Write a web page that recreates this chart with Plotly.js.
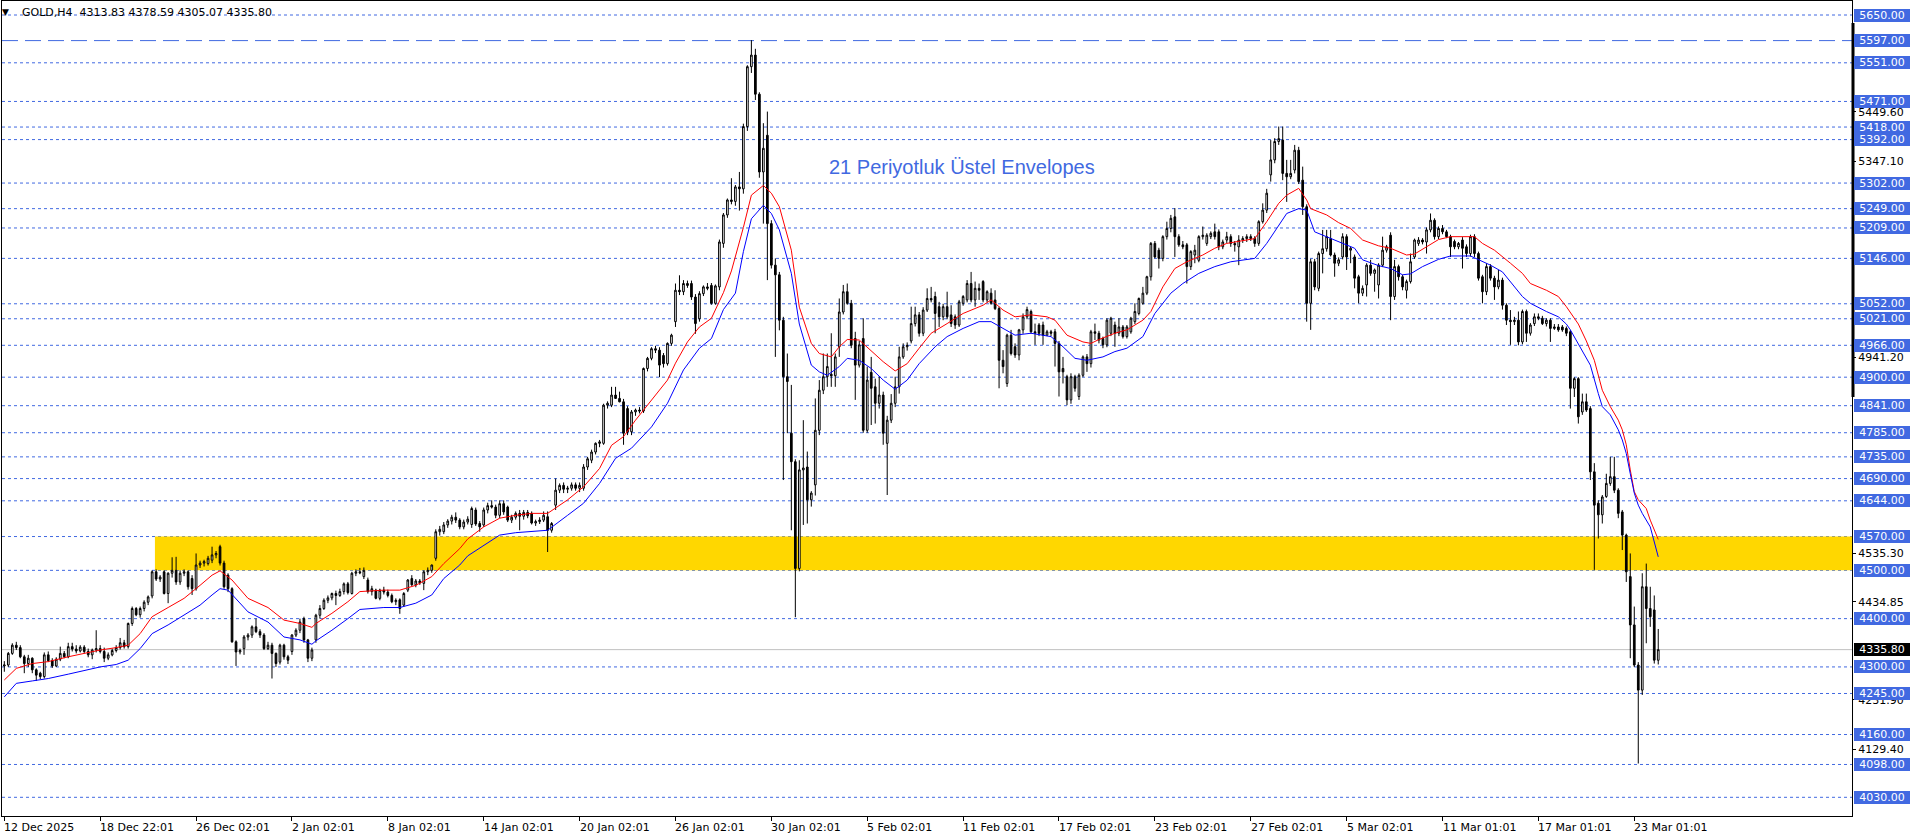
<!DOCTYPE html>
<html><head><meta charset="utf-8">
<script src="https://cdn.plot.ly/plotly-3.0.1.min.js"></script>
<style>html,body{margin:0;padding:0;background:#fff;overflow:hidden}#chart{width:1916px;height:840px}</style>
</head><body><div id="chart"></div>
<script>
const openP = [
4302,4304,4328,4345,4340,4321,4307,4318,4294,4287,
4280,4325,4313,4302,4316,4328,4321,4342,4337,4333,
4341,4332,4325,4335,4338,4332,4318,4325,4334,4340,
4350,4342,4390,4421,4408,4421,4434,4447,4497,4482,
4497,4452,4494,4500,4476,4494,4497,4483,4462,4511,
4515,4514,4521,4532,4549,4515,4490,4462,4352,4331,
4338,4362,4366,4383,4373,4366,4338,4345,4328,4310,
4345,4321,4332,4366,4376,4400,4356,4318,4356,4407,
4421,4438,4443,4452,4448,4456,4472,4452,4494,4497,
4487,4480,4456,4459,4442,4459,4455,4448,4435,4439,
4428,4459,4483,4470,4478,4473,4497,4500,4525,4580,
4580,4594,4602,4610,4604,4590,4600,4595,4625,4597,
4594,4625,4634,4631,4614,4638,4631,4604,4610,4618,
4612,4620,4618,4598,4601,4604,4611,4583,4635,4666,
4676,4668,4670,4677,4670,4670,4714,4728,4745,4763,
4763,4842,4842,4863,4856,4849,4835,4787,4828,4832,
4830,4918,4939,4959,4956,4945,4928,4970,5015,5080,
5077,5094,5094,5066,5021,5073,5087,5090,5053,5087,
5177,5236,5267,5264,5294,5290,5419,5543,5567,5486,
5325,5401,5218,5132,5112,5018,4901,4784,4725,4504,
4708,4714,4646,4677,4790,4873,4901,4906,4903,4963,
5035,5077,5053,4980,4925,4980,4790,4910,4880,4846,
4863,4763,4811,4846,4880,4942,4963,4975,5011,5029,
4991,5039,5063,5067,5046,5025,5046,5029,5025,5008,
5053,5060,5094,5060,5084,5098,5060,5074,5060,5042,
4935,4887,4987,4963,4946,4998,5025,5036,4994,5008,
5008,4987,4994,4994,4970,4918,4901,4853,4901,4860,
4904,4942,4928,4994,4991,4980,4967,4991,5008,4991,
5004,4984,4994,5015,5032,5053,5074,5108,5177,5163,
5146,5191,5208,5232,5191,5174,5174,5129,5153,5142,
5191,5177,5191,5201,5201,5170,5184,5191,5177,5170,
5184,5187,5191,5187,5177,5222,5246,5319,5350,5388,
5391,5322,5315,5329,5370,5308,5253,5053,5139,5084,
5156,5166,5187,5153,5136,5149,5191,5163,5149,5108,
5074,5091,5132,5115,5091,5132,5163,5194,5067,5129,
5108,5080,5098,5149,5177,5184,5180,5205,5225,5191,
5208,5201,5191,5181,5170,5184,5170,5156,5191,5156,
5108,5077,5129,5105,5087,5101,5049,5018,5015,5018,
4973,5036,4991,5011,5025,5022,5011,5018,5001,5004,
5004,5001,4994,4877,4897,4828,4849,4835,4704,4639,
4615,4653,4680,4694,4666,4621,4573,4487,4387,4304,
4252,4466,4421,4418,4313.83];
const highP = [
4312,4331,4349,4352,4345,4325,4325,4320,4297,4290,
4330,4332,4318,4320,4342,4333,4350,4350,4345,4345,
4345,4338,4338,4376,4345,4340,4330,4338,4345,4360,
4356,4392,4425,4424,4425,4438,4448,4500,4502,4490,
4500,4496,4527,4528,4500,4502,4500,4490,4535,4520,
4522,4530,4549,4540,4553,4520,4494,4465,4355,4338,
4366,4370,4386,4400,4378,4370,4352,4350,4330,4348,
4348,4325,4368,4380,4400,4404,4358,4340,4410,4428,
4442,4448,4454,4458,4462,4475,4476,4497,4502,4505,
4506,4485,4468,4462,4462,4466,4460,4452,4442,4442,
4455,4482,4490,4482,4482,4500,4506,4512,4585,4592,
4600,4606,4615,4620,4608,4605,4612,4632,4630,4602,
4630,4640,4645,4636,4645,4645,4634,4615,4622,4625,
4625,4625,4622,4605,4610,4622,4622,4600,4690,4680,
4682,4675,4682,4682,4682,4720,4735,4750,4765,4770,
4845,4850,4880,4880,4870,4855,4840,4832,4835,4838,
4920,4942,4962,4965,4962,4950,4972,4990,5094,5111,
5101,5100,5100,5072,5078,5090,5095,5095,5092,5185,
5240,5270,5312,5298,5325,5425,5546,5598,5580,5490,
5426,5450,5225,5146,5118,5025,4949,4884,4730,4728,
4811,4746,4664,4856,4894,4949,4949,4991,4949,5063,
5091,5094,5060,4994,4975,5022,4922,4942,4897,4901,
4870,4820,4865,4901,4963,4970,4972,5046,5046,5035,
5045,5084,5087,5077,5056,5052,5077,5049,5030,5060,
5070,5101,5118,5098,5094,5101,5080,5084,5080,5046,
4956,4990,4998,4970,5000,5032,5046,5040,5011,5012,
5015,4998,4998,5000,4975,4942,4905,4908,4905,4908,
4945,4948,4998,5011,4996,4984,5022,5025,5015,5022,
5008,5008,5025,5053,5065,5087,5110,5180,5182,5168,
5194,5222,5236,5250,5196,5182,5178,5163,5174,5194,
5212,5198,5202,5218,5206,5185,5201,5196,5182,5194,
5192,5196,5196,5192,5225,5260,5290,5391,5395,5419,
5419,5350,5350,5381,5377,5336,5258,5145,5145,5160,
5205,5205,5205,5158,5148,5198,5196,5170,5154,5112,
5090,5136,5143,5125,5136,5191,5174,5200,5143,5133,
5112,5102,5156,5187,5190,5188,5210,5239,5229,5212,
5215,5205,5195,5185,5180,5190,5175,5195,5196,5160,
5112,5136,5134,5110,5122,5106,5053,5039,5025,5036,
5040,5040,5012,5032,5032,5027,5022,5022,5010,5010,
5008,5005,4998,4900,4900,4866,4866,4840,4722,4645,
4656,4700,4735,4735,4670,4625,4576,4535,4425,4310,
4494,4514,4466,4448,4378.59];
const lowP = [
4290,4300,4325,4335,4318,4287,4300,4287,4271,4275,
4276,4310,4298,4300,4312,4318,4318,4332,4328,4330,
4328,4320,4316,4330,4328,4310,4314,4322,4330,4336,
4338,4338,4385,4405,4402,4415,4428,4442,4478,4476,
4450,4432,4485,4470,4470,4488,4460,4449,4458,4505,
4508,4510,4515,4525,4510,4462,4455,4350,4302,4326,
4325,4355,4360,4370,4360,4335,4335,4276,4300,4305,
4315,4306,4325,4362,4370,4350,4310,4312,4350,4400,
4418,4432,4438,4428,4445,4450,4450,4450,4488,4492,
4482,4452,4448,4440,4438,4450,4444,4432,4428,4410,
4425,4455,4468,4465,4470,4459,4490,4495,4520,4572,
4575,4588,4595,4598,4585,4585,4595,4588,4592,4580,
4590,4618,4628,4608,4608,4615,4600,4598,4605,4583,
4605,4608,4595,4592,4596,4600,4538,4578,4625,4660,
4660,4660,4665,4665,4662,4665,4708,4722,4740,4755,
4760,4835,4838,4855,4848,4760,4780,4780,4820,4825,
4826,4912,4935,4950,4900,4920,4924,4965,5004,5070,
5070,5085,5060,4990,5015,5068,5080,5050,5050,5080,
5168,5230,5258,5255,5245,5280,5410,5530,5474,5313,
5218,5101,5125,4942,4997,4687,4784,4583,4403,4498,
4594,4597,4632,4655,4780,4865,4880,4880,4880,4942,
5030,5050,4960,4853,4920,4785,4785,4801,4804,4835,
4760,4656,4805,4838,4866,4938,4955,4970,5005,4984,
4985,5035,5055,4991,5004,5018,5020,5004,5000,5004,
5048,5055,5055,5046,5060,5055,5055,5050,5039,4877,
4908,4880,4945,4940,4935,4990,5020,4990,4967,4985,
4967,4985,4985,4922,4860,4887,4842,4845,4870,4853,
4900,4911,4920,4977,4970,4960,4962,4985,4963,4985,
4980,4980,4990,5010,5028,5050,5070,5100,5146,5125,
5140,5185,5200,5149,5170,5165,5094,5122,5136,5138,
5185,5172,5186,5185,5163,5165,5178,5170,5160,5132,
5178,5180,5182,5170,5172,5218,5240,5305,5343,5381,
5308,5263,5310,5322,5300,5236,5015,4998,5080,5078,
5115,5160,5150,5108,5130,5144,5122,5136,5084,5053,
5068,5067,5110,5077,5063,5128,5158,5018,5060,5100,
5080,5063,5094,5145,5172,5175,5156,5200,5185,5186,
5196,5188,5149,5165,5165,5125,5149,5150,5149,5100,
5053,5070,5100,5060,5082,5040,5008,4967,5008,4966,
4968,4973,4986,5006,5018,5008,5005,4973,4998,4994,
4994,4985,4835,4859,4804,4822,4828,4687,4501,4566,
4597,4650,4675,4660,4608,4542,4476,4318,4300,4100,
4242,4349,4383,4307,4305.07];
const closeP = [
4304,4328,4345,4340,4321,4307,4318,4294,4283,4280,
4325,4313,4302,4316,4328,4321,4342,4337,4333,4341,
4332,4325,4335,4338,4332,4318,4325,4334,4340,4350,
4342,4390,4421,4408,4421,4434,4445,4497,4482,4486,
4452,4494,4500,4476,4494,4497,4466,4462,4511,4515,
4518,4525,4532,4535,4515,4466,4462,4352,4331,4334,
4362,4366,4383,4373,4366,4338,4345,4328,4307,4345,
4321,4314,4366,4376,4393,4356,4318,4335,4407,4421,
4438,4443,4452,4448,4456,4472,4454,4494,4497,4495,
4500,4456,4462,4442,4459,4455,4448,4435,4438,4421,
4452,4480,4470,4478,4474,4497,4500,4511,4580,4585,
4594,4602,4610,4604,4590,4600,4606,4628,4596,4590,
4625,4634,4631,4614,4638,4621,4604,4610,4618,4612,
4620,4613,4598,4601,4604,4614,4583,4597,4666,4676,
4668,4670,4677,4670,4676,4714,4731,4745,4763,4766,
4842,4846,4863,4856,4849,4784,4787,4828,4832,4830,
4918,4939,4959,4956,4925,4928,4970,4987,5080,5077,
5094,5090,5066,5011,5073,5087,5084,5053,5089,5180,
5236,5267,5264,5294,5290,5419,5543,5567,5486,5325,
5374,5218,5132,5112,5018,4901,4891,4725,4504,4708,
4712,4646,4660,4790,4873,4901,4922,4903,4942,5035,
5077,5053,4966,4925,4967,4790,4894,4877,4846,4863,
4784,4811,4846,4880,4942,4963,4966,5011,5029,4991,
5039,5063,5060,5032,5025,5046,5025,5011,5008,5056,
5067,5094,5060,5084,5080,5060,5077,5053,5042,4935,
4922,4987,4949,4946,4998,5025,5040,4994,4991,4991,
4987,4994,4991,4970,4911,4911,4853,4901,4877,4904,
4942,4928,4994,4991,4977,4967,5018,5022,4991,5004,
4984,5004,5022,5036,5063,5074,5108,5177,5149,5146,
5191,5208,5229,5191,5174,5170,5129,5160,5163,5191,
5194,5194,5198,5191,5170,5180,5191,5177,5174,5184,
5187,5191,5187,5177,5222,5246,5281,5350,5388,5394,
5322,5315,5322,5370,5305,5253,5053,5139,5087,5156,
5166,5191,5153,5136,5143,5191,5149,5167,5105,5074,
5084,5132,5115,5122,5132,5163,5170,5067,5129,5108,
5087,5098,5139,5184,5184,5180,5205,5225,5191,5208,
5201,5191,5170,5170,5177,5167,5156,5191,5156,5105,
5077,5129,5105,5087,5101,5049,5018,5015,5018,4973,
5036,4991,5008,5025,5022,5011,5018,5001,5004,4998,
4998,4991,4877,4897,4818,4849,4832,4704,4635,4615,
4652,4680,4694,4666,4618,4573,4497,4387,4304,4252,
4466,4421,4404,4314,4335.80];

// Envelope (21-period exponential) upper (red) and lower (blue) band, read at sampled candles
const upperIdx = [0,3,7,11,16,20,24,28,31,34,37,41,45,49,52,54,57,61,66,70,74,77,78,82,86,89,91,95,99,103,107,110,114,116,120,124,128,132,136,141,145,149,152,155,158,162,166,168,171,174,177,180,182,185,187,190,192,194,197,199,202,204,207,209,211,214,217,220,223,226,229,232,236,240,245,247,250,253,257,261,263,266,270,272,274,278,281,285,287,290,293,296,300,303,306,310,313,316,319,321,324,326,327,331,334,337,340,344,347,351,353,356,359,362,368,370,373,377,380,382,386,389,391,394,396,398,399,400,402,404,405,406,407,408,409,411,412,414];
const upperVal = [4273,4297,4307,4311,4321,4328,4335,4340,4345,4369,4404,4423,4442,4469,4490,4499,4480,4442,4423,4397,4390,4382,4390,4411,4435,4456,4457,4459,4459,4469,4487,4514,4545,4565,4590,4608,4614,4618,4618,4646,4673,4711,4759,4777,4811,4853,4894,4929,4973,5004,5022,5075,5120,5210,5277,5297,5281,5253,5163,5045,4970,4949,4942,4963,4978,4977,4955,4932,4913,4928,4960,4991,5011,5032,5049,5060,5039,5025,5029,5025,5018,4987,4973,4970,4978,4991,4998,5018,5036,5087,5125,5139,5153,5167,5177,5183,5187,5222,5260,5277,5291,5267,5249,5236,5220,5208,5184,5172,5167,5153,5155,5170,5185,5191,5191,5177,5163,5136,5115,5094,5080,5067,5046,5010,4975,4935,4901,4873,4839,4811,4791,4760,4708,4663,4646,4628,4604,4564];
const lowerIdx = [0,3,7,11,16,20,24,28,31,34,37,41,45,49,52,54,56,61,66,70,74,77,78,82,86,89,95,99,103,107,110,114,116,120,124,128,132,136,141,145,149,153,157,162,166,170,174,177,180,183,185,187,190,192,194,197,199,202,204,206,209,211,214,217,220,223,226,229,233,236,240,244,247,250,253,257,262,265,268,271,275,278,281,285,288,292,295,299,303,307,313,316,319,321,324,326,328,331,335,338,340,344,347,350,352,355,359,362,367,369,372,375,377,380,382,386,389,391,392,395,397,399,400,402,404,405,406,407,408,409,410,412,414];
const lowerVal = [4238,4266,4271,4276,4285,4293,4300,4305,4314,4338,4369,4387,4407,4428,4449,4462,4459,4414,4393,4362,4356,4347,4354,4376,4400,4419,4423,4423,4432,4449,4483,4511,4530,4552,4573,4578,4581,4583,4614,4639,4680,4732,4753,4797,4846,4915,4960,4980,5040,5074,5160,5228,5256,5239,5205,5115,5010,4925,4911,4904,4922,4939,4935,4918,4894,4875,4894,4928,4963,4984,5001,5015,5015,5001,4987,4991,4984,4963,4939,4935,4942,4953,4960,4984,5032,5074,5094,5115,5129,5139,5146,5177,5215,5239,5249,5246,5201,5191,5176,5167,5143,5131,5125,5112,5114,5129,5144,5151,5151,5143,5132,5118,5098,5067,5053,5036,5025,5010,4998,4956,4925,4866,4839,4822,4791,4770,4742,4700,4660,4635,4618,4590,4528];

const levelPrices = [5650,5551,5471,5418,5392,5302,5249,5209,5146,5052,5021,4966,4900,4841,4785,4735,4690,4644,4570,4500,4400,4300,4245,4160,4098,4030];
const dashedLevel = 5597;
const scaleTicks = [5449.60,5347.10,4941.20,4535.30,4434.85,4231.90,4129.40];
const lastPrice = 4335.80;
const zoneLow = 4500, zoneHigh = 4570, zoneStartIdx = 37.7;
const dateTickIdx = [0,24,48,72,96,120,144,168,192,216,240,264,288,312,336,360,384,408];
const dateTickText = ['12 Dec 2025','18 Dec 22:01','26 Dec 02:01','2 Jan 02:01','8 Jan 02:01','14 Jan 02:01','20 Jan 02:01','26 Jan 02:01','30 Jan 02:01','5 Feb 02:01','11 Feb 02:01','17 Feb 02:01','23 Feb 02:01','27 Feb 02:01','5 Mar 02:01','11 Mar 01:01','17 Mar 01:01','23 Mar 01:01'];
const symbolText = 'GOLD,H4  4313.83 4378.59 4305.07 4335.80';
const indicatorText = '21 Periyotluk Üstel Envelopes';

const idx = closeP.map((_, i) => i);
const BLUE = '#4169E1';
const FONT = 'DejaVu Sans, Tahoma, sans-serif';
const X_RANGE = [-0.58, 462.5];
const Y_RANGE = [3991.3, 5679];
const PLOT_L = 2, PLOT_R = 1852, PLOT_T = 1, PLOT_B = 816;
const pxToPaperX = px => (px - PLOT_L) / (PLOT_R - PLOT_L);
const pxToPaperY = py => (PLOT_B - py) / (PLOT_B - PLOT_T);

const traces = [
  {type:'scatter', mode:'lines', x: upperIdx, y: upperVal, line:{color:'#FF0000', width:1}, hoverinfo:'skip'},
  {type:'scatter', mode:'lines', x: lowerIdx, y: lowerVal, line:{color:'#0000FF', width:1}, hoverinfo:'skip'},
  {type:'candlestick', x: idx, open: openP, high: highP, low: lowP, close: closeP,
   increasing:{line:{color:'#000', width:1}, fillcolor:'#FFFFFF'},
   decreasing:{line:{color:'#000', width:1}, fillcolor:'#000000'},
   whiskerwidth:0, hoverinfo:'skip'}
];

const shapes = [];
shapes.push({type:'rect', layer:'below', xref:'x', yref:'y', x0: zoneStartIdx, x1: X_RANGE[1], y0: zoneLow, y1: zoneHigh, fillcolor:'#FFD700', line:{width:0}});
shapes.push({type:'line', layer:'below', xref:'paper', yref:'y', x0:0, x1:1, y0:lastPrice, y1:lastPrice, line:{color:'#C0C0C0', width:1}});
levelPrices.forEach(p => shapes.push({type:'line', layer:'below', xref:'paper', yref:'y', x0:0, x1:1, y0:p, y1:p, line:{color:BLUE, width:1, dash:'3px,3px'}}));
shapes.push({type:'line', layer:'below', xref:'paper', yref:'y', x0:0, x1:1, y0:dashedLevel, y1:dashedLevel, line:{color:BLUE, width:1, dash:'16px,7px'}});
shapes.push({type:'line', layer:'above', xref:'paper', yref:'y', x0:pxToPaperX(1853), x1:pxToPaperX(1853), y0:5633.4, y1:4858.9, line:{color:'#000', width:3}});

const annotations = [];
dateTickIdx.forEach((v, k) => annotations.push({xref:'x', yref:'paper', x:v, y:pxToPaperY(828), xanchor:'left', yanchor:'middle', xshift:-2, showarrow:false, text:dateTickText[k], font:{family:FONT, size:11, color:'#000'}}));
annotations.push({xref:'paper', yref:'paper', x:pxToPaperX(0), y:pxToPaperY(12), xanchor:'left', yanchor:'middle', showarrow:false, text:'▼', font:{family:FONT, size:9, color:'#000'}});
annotations.push({xref:'paper', yref:'paper', x:pxToPaperX(20), y:pxToPaperY(12), xanchor:'left', yanchor:'middle', showarrow:false, text:symbolText, font:{family:FONT, size:11, color:'#000'}});
annotations.push({xref:'x', yref:'y', x:206.4, y:5335, xanchor:'left', yanchor:'middle', xshift:-2, showarrow:false, text:indicatorText, font:{family:'Liberation Sans, Arial, sans-serif', size:20, color:BLUE}});
const boxLabel = (p, bg) => ({xref:'paper', yref:'y', x:pxToPaperX(1854), y:p, xanchor:'left', yanchor:'middle', showarrow:false, text:p.toFixed(2), bgcolor:bg, borderpad:0, borderwidth:0, width:56, height:13, align:'center', font:{family:FONT, size:11, color:'#FFFFFF'}});
levelPrices.forEach(p => annotations.push(boxLabel(p, BLUE)));
annotations.push(boxLabel(dashedLevel, BLUE));
annotations.push(boxLabel(lastPrice, '#000000'));

const layout = {
  width:1916, height:840, autosize:false,
  paper_bgcolor:'#FFFFFF', plot_bgcolor:'#FFFFFF',
  margin:{l:PLOT_L, r:1916-PLOT_R, t:PLOT_T, b:840-PLOT_B, pad:0},
  showlegend:false, boxgap:0.4,
  xaxis:{range:X_RANGE, type:'linear', showgrid:false, zeroline:false, showline:true, mirror:true, linecolor:'#000', linewidth:1,
         tickvals:dateTickIdx, ticktext:dateTickIdx.map(() => ''), ticks:'outside', ticklen:4, tickcolor:'#000', rangeslider:{visible:false}, fixedrange:true},
  yaxis:{range:Y_RANGE, side:'right', showgrid:false, zeroline:false, showline:true, mirror:true, linecolor:'#000', linewidth:1,
         tickvals:scaleTicks, ticktext:scaleTicks.map(v => v.toFixed(2)), ticks:'outside', ticklen:3, tickcolor:'#000',
         tickfont:{family:FONT, size:11, color:'#000'}, fixedrange:true},
  shapes: shapes,
  annotations: annotations
};

Plotly.newPlot('chart', traces, layout, {staticPlot:true, displayModeBar:false});
</script>
</body></html>
